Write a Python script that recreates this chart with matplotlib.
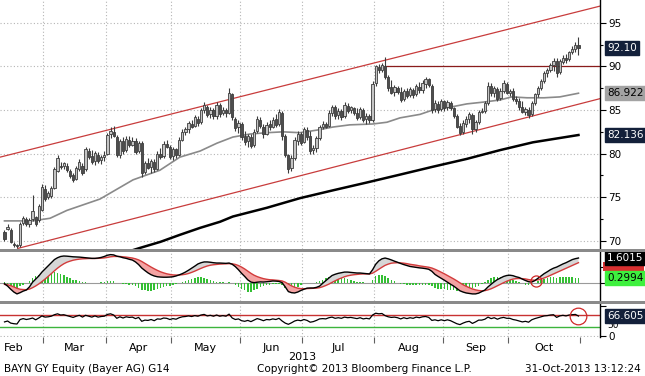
import numpy as np
import matplotlib
matplotlib.use("Agg")
import matplotlib.pyplot as plt
from matplotlib.patches import Rectangle
import matplotlib.transforms as mtrans

plt.rcParams['font.family'] = ['DejaVu Sans']

# ---------------- data (trading-day index 0 = 12-Feb-2013 ... 184 = 31-Oct-2013) -------------
opens = [71.0, 71.4, 71.3, 69.7, 69.5, 69.5, 72.1, 72.5, 71.9, 72.5, 72.7, 72.4, 73.6, 76.0, 75.0, 75.1, 76.1, 78.0, 78.6, 78.6,
         78.6, 78.0, 77.6, 77.1, 78.2, 78.6, 78.2, 80.3, 79.7, 79.2, 79.8, 79.3, 79.6, 80.0, 82.2, 82.5, 81.9, 79.8, 81.4, 80.4,
         81.6, 81.0, 81.5, 80.3, 81.2, 77.9, 78.9, 78.5, 79.1, 78.3, 80.0, 79.7, 81.1, 80.8, 79.7, 80.5, 79.9, 81.6, 82.5, 82.8,
         83.4, 83.2, 84.0, 83.6, 85.0, 85.4, 84.5, 85.0, 84.3, 85.6, 84.6, 85.0, 84.7, 86.8, 84.0, 83.0, 83.4, 82.0, 81.4, 81.9,
         81.0, 82.6, 83.9, 83.1, 82.3, 83.4, 83.1, 84.0, 83.4, 84.7, 82.0, 79.8, 78.4, 79.5, 81.5, 82.2, 81.3, 82.7, 82.0, 80.4,
         80.7, 81.8, 83.0, 83.4, 83.2, 84.7, 85.3, 84.4, 84.9, 84.3, 85.5, 85.0, 85.2, 84.7, 84.2, 85.0, 84.0, 84.3, 83.8, 88.1,
         89.9, 89.6, 90.0, 88.8, 87.6, 87.1, 87.5, 87.1, 86.3, 87.2, 86.7, 87.3, 86.8, 87.6, 87.3, 88.0, 88.5, 87.8, 85.1, 85.7,
         85.1, 86.0, 85.3, 85.8, 85.2, 84.3, 83.2, 82.5, 83.4, 84.0, 84.4, 82.8, 83.6, 84.8, 84.9, 85.8, 87.8, 86.9, 87.4, 86.4,
         87.2, 88.0, 87.0, 87.2, 86.3, 86.0, 85.3, 84.8, 85.0, 84.5, 85.8, 86.8, 87.5, 88.3, 89.2, 89.6, 90.1, 90.6, 89.3, 90.5,
         91.0, 90.8, 91.6, 92.0, 92.5]
highs = [71.2, 71.9, 71.5, 69.9, 69.7, 72.2, 72.9, 72.8, 72.6, 75.3, 72.9, 74.2, 76.5, 76.4, 75.7, 76.3, 78.5, 79.8, 79.0, 79.1,
         78.9, 78.3, 77.8, 78.6, 79.4, 78.9, 80.8, 80.6, 80.4, 80.3, 80.2, 79.9, 80.3, 82.4, 83.0, 83.2, 82.1, 81.7, 81.9, 82.0,
         82.0, 81.9, 81.8, 81.5, 81.4, 79.2, 79.5, 79.4, 79.4, 80.3, 80.6, 81.4, 81.6, 81.0, 80.8, 80.7, 81.9, 82.8, 83.0, 83.7,
         83.9, 84.4, 84.3, 85.2, 85.9, 85.6, 85.3, 85.2, 85.9, 85.8, 85.3, 85.2, 87.5, 87.0, 84.2, 83.9, 83.6, 82.6, 82.3, 82.3,
         82.8, 84.3, 84.2, 83.4, 83.6, 83.8, 84.2, 84.5, 85.1, 84.9, 82.2, 80.0, 79.8, 81.9, 82.6, 82.5, 83.0, 83.0, 82.6, 81.0,
         82.0, 83.3, 83.7, 83.6, 85.0, 85.6, 85.6, 85.2, 85.1, 85.9, 85.8, 85.5, 85.4, 85.2, 85.4, 85.2, 84.6, 84.5, 88.3, 90.2,
         90.3, 90.4, 91.1, 89.0, 88.4, 87.9, 87.8, 87.6, 87.4, 87.5, 87.6, 87.5, 88.0, 88.2, 88.4, 88.8, 88.7, 88.0, 86.1, 86.0,
         86.3, 86.2, 86.2, 86.0, 85.3, 84.5, 83.5, 83.8, 84.3, 84.8, 84.7, 83.8, 85.0, 85.2, 86.0, 88.2, 88.1, 87.8, 87.6, 87.5,
         88.4, 88.2, 87.4, 87.5, 86.6, 86.4, 86.0, 85.4, 85.3, 86.0, 87.0, 87.8, 88.5, 89.5, 89.8, 90.4, 90.9, 91.0, 90.8, 91.3,
         91.4, 91.8, 92.3, 92.8, 93.4]
lows = [70.0, 71.2, 69.8, 69.3, 69.2, 69.3, 71.8, 71.7, 71.6, 72.3, 71.7, 72.2, 73.4, 74.6, 74.8, 74.9, 76.0, 77.9, 78.2, 78.2,
        77.9, 77.2, 76.8, 77.0, 78.0, 77.5, 78.0, 79.4, 78.8, 78.7, 78.9, 78.8, 79.2, 79.8, 81.8, 81.9, 79.6, 79.5, 80.0, 80.2,
        80.8, 80.9, 80.0, 80.1, 77.3, 77.7, 78.2, 77.8, 77.9, 78.1, 79.4, 79.5, 80.6, 79.4, 79.3, 79.5, 79.7, 81.4, 82.1, 82.4,
        82.9, 83.0, 83.2, 83.4, 84.6, 84.2, 84.1, 84.0, 84.0, 84.2, 84.4, 84.2, 84.5, 83.9, 82.6, 82.4, 81.6, 81.0, 80.8, 80.6,
        80.8, 82.4, 82.9, 81.8, 82.1, 82.7, 82.9, 83.0, 83.2, 81.6, 79.6, 77.8, 78.0, 79.3, 81.0, 81.0, 81.2, 81.6, 80.0, 80.0,
        80.2, 81.6, 82.8, 82.9, 83.0, 84.3, 84.0, 84.0, 83.9, 84.1, 84.6, 84.7, 84.4, 83.9, 84.0, 83.6, 83.4, 83.5, 83.6, 87.8,
        89.2, 89.3, 88.5, 87.2, 86.8, 86.6, 86.8, 85.9, 86.0, 86.4, 86.5, 86.4, 86.6, 87.0, 87.0, 87.5, 87.6, 84.6, 84.8, 84.7,
        84.9, 84.9, 85.0, 85.0, 84.1, 82.9, 82.1, 82.3, 83.0, 83.5, 82.3, 82.5, 83.4, 84.6, 84.7, 85.6, 86.6, 86.5, 86.0, 86.2,
        86.9, 86.8, 86.6, 86.0, 85.7, 85.0, 84.6, 84.4, 84.1, 84.3, 85.6, 86.5, 87.3, 88.1, 88.8, 89.3, 89.5, 88.8, 89.1, 90.3,
        90.4, 90.6, 91.4, 91.7, 91.3]
closes = [70.2, 71.6, 69.9, 69.5, 69.4, 72.0, 72.6, 71.9, 72.4, 73.4, 71.9, 74.0, 76.2, 74.8, 75.5, 76.1, 78.3, 79.5, 78.5, 78.9,
          78.1, 77.4, 77.0, 78.4, 79.1, 77.8, 80.5, 79.6, 79.0, 80.1, 79.2, 79.6, 79.9, 82.1, 82.6, 82.0, 79.8, 81.4, 80.3, 81.7,
          81.0, 81.5, 80.2, 81.2, 77.8, 78.9, 78.4, 79.2, 78.2, 80.0, 79.6, 81.1, 80.8, 79.6, 80.5, 79.8, 81.6, 82.5, 82.8, 83.5,
          83.1, 84.2, 83.5, 85.0, 85.6, 84.4, 85.0, 84.3, 85.6, 84.5, 85.0, 84.6, 86.9, 84.2, 82.9, 83.5, 81.9, 81.3, 82.0, 80.9,
          82.5, 84.0, 83.2, 82.2, 83.3, 83.0, 83.9, 83.3, 84.8, 82.0, 79.9, 78.3, 79.5, 81.6, 82.3, 81.2, 82.8, 81.9, 80.3, 80.7,
          81.8, 83.1, 83.4, 83.1, 84.7, 85.3, 84.3, 84.9, 84.2, 85.6, 84.9, 85.3, 84.6, 84.1, 85.1, 83.9, 84.3, 83.8, 88.0, 90.0,
          89.6, 90.1, 88.8, 87.5, 87.0, 87.6, 87.1, 86.2, 87.2, 86.6, 87.4, 86.7, 87.8, 87.3, 88.1, 88.5, 87.9, 85.0, 85.8, 85.0,
          86.0, 85.2, 85.9, 85.2, 84.3, 83.1, 82.4, 83.5, 84.0, 84.5, 82.8, 83.6, 84.8, 84.9, 85.8, 87.8, 86.9, 87.5, 86.3, 87.2,
          88.1, 87.0, 87.2, 86.3, 86.0, 85.3, 84.8, 85.1, 84.4, 85.8, 86.8, 87.5, 88.3, 89.2, 89.6, 90.2, 90.6, 89.2, 90.6, 91.0,
          90.7, 91.6, 92.0, 92.5, 92.1]

macd_line = [-0.05, -0.20, -0.40, -0.58, -0.70, -0.62, -0.52, -0.45, -0.25, 0.05, 0.25, 0.45, 0.70, 0.90, 1.10, 1.30, 1.50, 1.62, 1.70, 1.73,
             1.72, 1.70, 1.68, 1.67, 1.66, 1.64, 1.62, 1.60, 1.58, 1.58, 1.60, 1.64, 1.70, 1.78, 1.82, 1.80, 1.72, 1.68, 1.62, 1.58,
             1.52, 1.47, 1.35, 1.18, 0.96, 0.80, 0.65, 0.53, 0.45, 0.40, 0.38, 0.37, 0.37, 0.38, 0.40, 0.45, 0.52, 0.60, 0.70, 0.82,
             0.95, 1.08, 1.22, 1.30, 1.35, 1.35, 1.33, 1.30, 1.28, 1.28, 1.27, 1.26, 1.28, 1.20, 1.05, 0.85, 0.62, 0.42, 0.20, 0.06,
             0.02, 0.05, 0.07, 0.06, 0.08, 0.10, 0.13, 0.12, 0.10, 0.02, -0.25, -0.55, -0.62, -0.64, -0.58, -0.48, -0.40, -0.33, -0.32, -0.32,
             -0.28, -0.20, -0.02, 0.15, 0.32, 0.48, 0.56, 0.62, 0.66, 0.70, 0.70, 0.68, 0.66, 0.64, 0.64, 0.62, 0.60, 0.58, 0.85, 1.20,
             1.42, 1.55, 1.60, 1.55, 1.48, 1.40, 1.33, 1.25, 1.18, 1.12, 1.06, 1.03, 1.00, 0.97, 0.95, 0.92, 0.88, 0.75, 0.55, 0.42,
             0.30, 0.18, 0.05, -0.08, -0.20, -0.35, -0.50, -0.58, -0.64, -0.67, -0.70, -0.70, -0.65, -0.55, -0.45, -0.25, -0.08, 0.08, 0.22, 0.32,
             0.42, 0.48, 0.50, 0.47, 0.40, 0.35, 0.25, 0.16, 0.08, 0.06, 0.15, 0.30, 0.45, 0.60, 0.72, 0.85, 0.95, 1.02, 1.12, 1.22,
             1.30, 1.40, 1.50, 1.56, 1.6015]
signal_line = [-0.09, -0.11, -0.17, -0.25, -0.34, -0.40, -0.42, -0.43, -0.39, -0.30, -0.19, -0.06, 0.09, 0.25, 0.42, 0.60, 0.78, 0.95, 1.10, 1.23,
               1.33, 1.40, 1.46, 1.50, 1.53, 1.55, 1.56, 1.57, 1.57, 1.57, 1.58, 1.59, 1.61, 1.64, 1.68, 1.70, 1.70, 1.70, 1.68, 1.66,
               1.63, 1.60, 1.55, 1.48, 1.38, 1.26, 1.14, 1.02, 0.91, 0.81, 0.72, 0.65, 0.59, 0.55, 0.52, 0.51, 0.51, 0.53, 0.56, 0.61,
               0.68, 0.76, 0.85, 0.94, 1.02, 1.09, 1.14, 1.17, 1.19, 1.21, 1.22, 1.23, 1.24, 1.23, 1.19, 1.12, 1.02, 0.90, 0.76, 0.62,
               0.50, 0.41, 0.34, 0.28, 0.24, 0.21, 0.20, 0.18, 0.16, 0.13, 0.05, -0.07, -0.18, -0.27, -0.33, -0.36, -0.37, -0.36, -0.35, -0.34,
               -0.33, -0.30, -0.24, -0.16, -0.07, 0.04, 0.14, 0.24, 0.32, 0.40, 0.46, 0.50, 0.53, 0.55, 0.57, 0.58, 0.58, 0.58, 0.63, 0.75,
               0.88, 1.01, 1.13, 1.21, 1.27, 1.29, 1.30, 1.29, 1.27, 1.24, 1.20, 1.17, 1.14, 1.10, 1.07, 1.04, 1.01, 0.96, 0.88, 0.79,
               0.69, 0.59, 0.48, 0.37, 0.26, 0.14, 0.01, -0.11, -0.21, -0.30, -0.38, -0.44, -0.48, -0.50, -0.49, -0.44, -0.37, -0.28, -0.18, -0.08,
               0.02, 0.11, 0.19, 0.25, 0.28, 0.29, 0.28, 0.26, 0.22, 0.19, 0.18, 0.20, 0.25, 0.32, 0.40, 0.49, 0.58, 0.67, 0.76, 0.85,
               0.94, 1.03, 1.12, 1.21, 1.3021]

rsi_line = [47, 50, 43, 41, 40, 55, 58, 55, 57, 60, 54, 60, 67, 63, 64, 66, 71, 74, 70, 71,
            68, 65, 62, 66, 69, 63, 69, 66, 63, 67, 63, 65, 66, 72, 74, 70, 59, 64, 60, 64,
            62, 63, 58, 62, 49, 53, 52, 55, 51, 57, 56, 60, 59, 55, 58, 56, 61, 64, 65, 67,
            65, 68, 66, 70, 72, 67, 69, 66, 70, 66, 68, 66, 73, 60, 55, 57, 51, 49, 52, 48,
            53, 58, 55, 51, 55, 54, 57, 55, 59, 50, 43, 39, 44, 50, 53, 51, 55, 52, 46, 48,
            52, 57, 58, 57, 61, 63, 59, 61, 59, 63, 61, 62, 60, 58, 61, 57, 59, 57, 70, 76,
            74, 75, 68, 64, 62, 63, 61, 57, 61, 58, 61, 59, 63, 61, 64, 65, 62, 52, 54, 51,
            54, 51, 54, 51, 46, 41, 38, 43, 47, 49, 42, 47, 53, 53, 56, 63, 58, 61, 56, 60,
            62, 59, 59, 55, 53, 50, 47, 49, 46, 54, 58, 61, 64, 67, 68, 70, 71, 62, 67, 69,
            67, 70, 71, 72, 66.605]

ma50_days = [0, 9, 14.6, 20, 30.6, 41.2, 49.8, 56.2, 62.7, 68.1, 73.2, 78.7, 84.1, 89.3, 94.7, 100.2,
             105.3, 110.7, 118.1, 122.6, 126.8, 133.2, 137.3, 142.5, 148.2, 153.4, 158.8, 162.6, 167.5, 173, 178, 184]
ma50_vals = [72.3, 72.3, 72.6, 73.5, 74.8, 77.0, 78.1, 79.6, 80.3, 81.2, 81.9, 82.25, 82.4, 82.5, 82.4, 82.7,
             83.05, 83.3, 83.4, 83.6, 84.1, 84.5, 85.0, 85.3, 85.7, 85.9, 86.15, 86.5, 86.4, 86.4, 86.5, 86.922]
ma200_days = [38, 43.4, 50, 56.2, 62.7, 69.1, 73.2, 84.1, 94.7, 105.3, 116.2, 126.8, 137.3, 148.2, 158.8, 169.4, 184]
ma200_vals = [68.6, 69.2, 69.9, 70.7, 71.5, 72.2, 72.8, 73.8, 74.9, 75.8, 76.7, 77.6, 78.5, 79.4, 80.4, 81.3, 82.136]

upper_channel_days = [-1.44, 190.9]
upper_channel_vals = [79.6, 96.9]
lower_channel_days = [4.3, 190.9]
lower_channel_vals = [69.15, 86.3]
resistance_days = [122, 190.9]
resistance_vals = [90.0, 90.0]

macd_cross_day = [170.3]
macd_cross_val = [0.12]
rsi_mark_day = [183.8]
rsi_mark_val = [66.6]

month_names = ['Feb', 'Mar', 'Apr', 'May', 'Jun', 'Jul', 'Aug', 'Sep', 'Oct']
month_bounds = [-6.5, 12.5, 32.5, 53.5, 75.5, 95.5, 118.5, 140.5, 161.5, 184.5]
price_ticks = [70, 75, 80, 85, 90, 95]
price_minor = [72.5, 77.5, 82.5, 87.5, 92.5]

last_price, ma50_last, ma200_last = 92.10, 86.922, 82.136
macd_last, signal_last, hist_last, rsi_last = 1.6015, 1.3021, 0.2994, 66.605

# ---------------- figure ----------------
W, H = 645, 376
fig = plt.figure(figsize=(W / 100, H / 100), dpi=100)
fig.patch.set_facecolor('white')

def px_axes(top, bottom):
    return fig.add_axes([0, (H - bottom) / H, 600 / W, (bottom - top) / H])

ax = px_axes(0, 249)
axm = px_axes(252, 301)
axr = px_axes(304, 337)

XLIM = (-1.44, 190.9)
grid_kw = dict(color='#b5b5b5', linestyle=(0, (1, 2)), linewidth=0.8)

for a in (ax, axm, axr):
    a.set_xlim(*XLIM)
    for s in ('left', 'top', 'bottom'):
        a.spines[s].set_visible(False)
    a.spines['right'].set_color('black')
    a.spines['right'].set_linewidth(1.0)
    a.yaxis.tick_right()
    a.set_xticks(month_bounds[1:])
    a.tick_params(axis='x', length=0, labelbottom=False)
    a.tick_params(axis='y', direction='out', length=4, width=0.8, pad=2, labelsize=7.5, colors='black')
    for b in month_bounds[1:-1]:
        a.axvline(b, zorder=0, **grid_kw)

days = np.arange(len(closes))
o = np.array(opens); h = np.array(highs); l = np.array(lows); c = np.array(closes)

# --- main price panel ---
ax.set_ylim(69.08, 97.6)
ax.set_yticks(price_ticks)
ax.set_yticks(price_minor, minor=True)
ax.tick_params(axis='y', which='minor', direction='out', length=2.5, width=0.8)
for p in price_ticks:
    ax.axhline(p, zorder=0, **grid_kw)

ax.plot(upper_channel_days, upper_channel_vals, color='#c83c3c', lw=0.9, zorder=2)
ax.plot(lower_channel_days, lower_channel_vals, color='#c83c3c', lw=0.9, zorder=2)
ax.plot(resistance_days, resistance_vals, color='#8a1c1c', lw=0.9, zorder=2)
ax.plot(ma200_days, ma200_vals, color='black', lw=1.8, zorder=3)
ax.plot(ma50_days, ma50_vals, color='#8a8a8a', lw=1.2, zorder=3)

up = c >= o
ax.vlines(days, l, h, color='#3c3c3c', lw=0.8, zorder=4)
body_lo = np.minimum(o, c)
body_h = np.maximum(np.abs(c - o), 0.08)
ax.bar(days[up], body_h[up], bottom=body_lo[up], width=0.72, color='#c4c4c4',
       edgecolor='#3c3c3c', linewidth=0.6, zorder=5)
ax.bar(days[~up], body_h[~up], bottom=body_lo[~up], width=0.72, color='#4e4e4e',
       edgecolor='#3c3c3c', linewidth=0.6, zorder=5)

def tag(a, y, text, bg, fg):
    tr = mtrans.blended_transform_factory(a.transAxes, a.transData)
    a.text(1.012, y, text, transform=tr, ha='left', va='center', fontsize=7.5, color=fg,
           bbox=dict(boxstyle='square,pad=0.2', fc=bg, ec=bg), clip_on=False, zorder=20)

tag(ax, last_price, f'{last_price:.2f}', '#13203a', 'white')
tag(ax, ma50_last, f'{ma50_last:.3f}', '#a3a3a3', 'black')
tag(ax, ma200_last, f'{ma200_last:.3f}', '#13203a', 'white')

# --- MACD panel ---
m = np.array(macd_line); s = np.array(signal_line)
hist = m - s
axm.set_ylim(-1.154, 1.987)
axm.set_yticks([0, 1])
axm.set_yticklabels(['', ''])
axm.axhline(0, color='#9a9a9a', lw=0.8, zorder=1)
axm.bar(days, hist, width=0.5, color='#34bf34', zorder=2)
axm.fill_between(days, m, s, where=m >= s, interpolate=True, color='#d6d6d6', lw=0, zorder=3)
axm.fill_between(days, m, s, where=m < s, interpolate=True, color='#f4a3a3', lw=0, zorder=3)
axm.plot(days, s, color='#d23c3c', lw=1.0, zorder=4)
axm.plot(days, m, color='black', lw=1.0, zorder=5)
axm.plot(macd_cross_day, macd_cross_val, 'o', ms=8, mfc='none', mec='#d02828', mew=0.9, zorder=6)
# signal-line value tag, mostly covered by the MACD tag (as in the original)
trm = mtrans.blended_transform_factory(axm.transAxes, axm.transData)
axm.add_patch(Rectangle((1.005, signal_last - 0.55), 0.068, 0.6, transform=trm,
                        facecolor='#d83030', edgecolor='none', clip_on=False, zorder=19))
tag(axm, macd_last, f'{macd_last:.4f}', 'black', 'white')
tag(axm, hist_last, f'{hist_last:.4f}', '#3ef03e', 'black')

# --- RSI panel ---
axr.set_ylim(-3.3, 106.7)
axr.set_yticks([0, 100])
axr.set_yticklabels(['0', ''])
axr.axhline(0, zorder=0, **grid_kw)
axr.axhline(70, color='#c83232', lw=1.0, zorder=2)
axr.axhline(30, color='#3cb43c', lw=1.0, zorder=2)
axr.plot(days, rsi_line, color='black', lw=0.9, zorder=3)
axr.plot(rsi_mark_day, rsi_mark_val, 'o', ms=12, mfc='none', mec='#d02828', mew=0.9, zorder=6)
tag(axr, rsi_last, f'{rsi_last:.3f}', '#13203a', 'white')
trr = mtrans.blended_transform_factory(axr.transAxes, axr.transData)
axr.text(1.012, 50, '50', transform=trr, ha='left', va='top', fontsize=6.5, color='black',
         clip_on=False, zorder=5)

# month ticks and labels under the RSI panel
axr.tick_params(axis='x', which='major', length=4, width=0.8, color='#606060', direction='out')
centers = [(month_bounds[k] + month_bounds[k + 1]) / 2 for k in range(len(month_names))]
axr.set_xticks(centers, minor=True)
axr.set_xticklabels(month_names, minor=True)
axr.tick_params(axis='x', which='minor', length=0, pad=4, labelsize=8, labelbottom=True)
trx = mtrans.blended_transform_factory(axr.transData, fig.transFigure)
axr.text(month_bounds[5], 1 - 357 / H, '2013', transform=trx, ha='center', va='center',
         fontsize=8, clip_on=False)

# separator bands
for top in (249, 301):
    fig.patches.append(Rectangle((0, (H - top - 3) / H), 1, 3 / H, transform=fig.transFigure,
                                 facecolor='#8a8a8a', edgecolor='none', zorder=30))

# footer
fig.text(4 / W, 1 - 369 / H, 'BAYN GY Equity (Bayer AG) G14', fontsize=7.5, va='center', ha='left')
fig.text(257 / W, 1 - 369 / H, 'Copyright\u00a9 2013 Bloomberg Finance L.P.', fontsize=7.5, va='center', ha='left')
fig.text(641 / W, 1 - 369 / H, '31-Oct-2013 13:12:24', fontsize=7.5, va='center', ha='right')

fig.savefig('out.png', dpi=100)
